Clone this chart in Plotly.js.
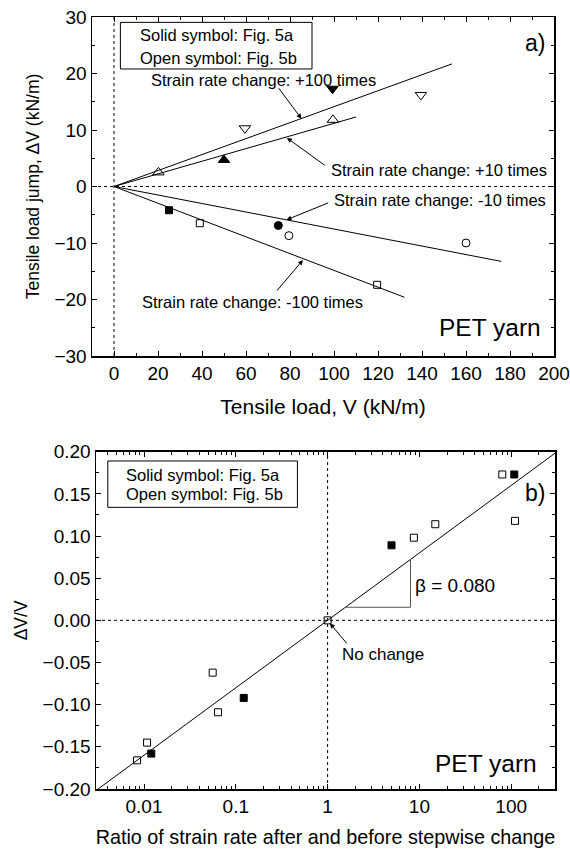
<!DOCTYPE html>
<html>
<head>
<meta charset="utf-8">
<script src="https://cdn.plot.ly/plotly-3.0.1.min.js"></script>
<style>html,body{margin:0;padding:0;background:#fff;}#chart{width:570px;height:851px;}</style>
</head>
<body>
<div id="chart"></div>
<script>
// ---------- Panel a) data: tensile load V (kN/m) vs load jump dV (kN/m) ----------
const aSolidUpX = [50];            // +10 times, Fig. 5a
const aSolidUpY = [4.7];
const aOpenUpX = [20.2, 99.5];     // +10 times, Fig. 5b
const aOpenUpY = [2.5, 11.8];
const aSolidDownX = [99.3];        // +100 times, Fig. 5a
const aSolidDownY = [17.3];
const aOpenDownX = [59.5, 139.5];  // +100 times, Fig. 5b
const aOpenDownY = [10.3, 16.2];
const aSolidSqX = [25];            // -100 times, Fig. 5a
const aSolidSqY = [-4.2];
const aOpenSqX = [39, 119.6];      // -100 times, Fig. 5b
const aOpenSqY = [-6.5, -17.4];
const aSolidCircX = [74.7];        // -10 times, Fig. 5a
const aSolidCircY = [-6.9];
const aOpenCircX = [79.5, 160];    // -10 times, Fig. 5b
const aOpenCircY = [-8.7, -10.0];
// fitted lines through origin: end points
const aFitNames = ['+100 times', '+10 times', '-10 times', '-100 times'];
const aFitEndX = [153.6, 110, 176, 132];
const aFitEndY = [21.7, 12.3, -13.25, -19.6];

// ---------- Panel b) data: strain-rate ratio vs dV/V ----------
const bSolidX = [0.012, 0.122, 4.97, 108];
const bSolidY = [-0.158, -0.092, 0.089, 0.173];
const bOpenX = [0.0084, 0.0108, 0.056, 0.064, 1, 8.7, 14.9, 80, 110];
const bOpenY = [-0.166, -0.145, -0.062, -0.109, 0, 0.098, 0.114, 0.173, 0.118];
const beta = 0.080;
const bFitX = [0.003, 300];
const bTriX = [1.5625, 8, 8];
const bTickVals = [0.01, 0.1, 1, 10, 100];
const bTickText = ['0.01', '0.1', '1', '10', '100'];

const FONT = 'Arial, "Liberation Sans", Helvetica, sans-serif';
const traces = [];
function pts(x, y, sym, size, xa, ya, name) {
  traces.push({x: x, y: y, mode: 'markers', type: 'scatter', name: name, xaxis: xa, yaxis: ya,
    marker: {symbol: sym, size: size, color: '#000', line: {color: '#000', width: 1}}});
}
// fitted lines panel a
for (let i = 0; i < aFitEndX.length; i++) {
  traces.push({x: [0, aFitEndX[i]], y: [0, aFitEndY[i]], mode: 'lines', type: 'scatter', name: aFitNames[i],
    xaxis: 'x', yaxis: 'y', line: {color: '#000', width: 1}});
}
pts(aSolidUpX, aSolidUpY, 'triangle-up', 10, 'x', 'y', '+10, 5a');
pts(aOpenUpX, aOpenUpY, 'triangle-up-open', 10, 'x', 'y', '+10, 5b');
pts(aSolidDownX, aSolidDownY, 'triangle-down', 10, 'x', 'y', '+100, 5a');
pts(aOpenDownX, aOpenDownY, 'triangle-down-open', 10, 'x', 'y', '+100, 5b');
pts(aSolidSqX, aSolidSqY, 'square', 7, 'x', 'y', '-100, 5a');
pts(aOpenSqX, aOpenSqY, 'square-open', 7, 'x', 'y', '-100, 5b');
pts(aSolidCircX, aSolidCircY, 'circle', 8, 'x', 'y', '-10, 5a');
pts(aOpenCircX, aOpenCircY, 'circle-open', 8, 'x', 'y', '-10, 5b');

// panel b
traces.push({x: bFitX, y: bFitX.map(v => beta * Math.log10(v)), mode: 'lines', type: 'scatter', name: 'fit',
  xaxis: 'x2', yaxis: 'y2', line: {color: '#000', width: 1}});
traces.push({x: bTriX, y: [beta * Math.log10(bTriX[0]), beta * Math.log10(bTriX[0]), beta * Math.log10(bTriX[2])],
  mode: 'lines', type: 'scatter', name: 'slope', xaxis: 'x2', yaxis: 'y2', line: {color: '#555', width: 1}});
pts(bSolidX, bSolidY, 'square', 7, 'x2', 'y2', 'Fig. 5a');
pts(bOpenX, bOpenY, 'square-open', 7, 'x2', 'y2', 'Fig. 5b');

const axBase = {
  showline: true, linecolor: '#000', linewidth: 1.5, mirror: 'ticks', ticks: 'inside', ticklen: 5,
  tickwidth: 1, tickcolor: '#000', showgrid: false, zeroline: false, ticklabeloverflow: 'allow',
  tickfont: {family: FONT, size: 19, color: '#000'},
};
function ax(extra) { return Object.assign({}, axBase, extra); }

const annFont = {family: FONT, size: 16.5, color: '#000'};
function txt(x, y, text, xref, yref, xanchor, size) {
  return {x: x, y: y, xref: xref, yref: yref, text: text, showarrow: false, xanchor: xanchor || 'left',
    yanchor: 'middle', font: Object.assign({}, annFont, size ? {size: size} : {})};
}
function arrow(x, y, axv, ayv, xref, yref) {
  return {x: x, y: y, ax: axv, ay: ayv, xref: xref, yref: yref, axref: xref, ayref: yref, text: '',
    showarrow: true, arrowhead: 2, arrowsize: 1, arrowwidth: 1, arrowcolor: '#000', standoff: 0};
}
const L = Math.log10;
const annotations = [
  txt(10.8, 26.9, 'Solid symbol: Fig. 5a', 'x', 'y'),
  txt(10.8, 22.8, 'Open symbol: Fig. 5b', 'x', 'y'),
  txt(15.8, 18.9, 'Strain rate change: +100 times', 'x', 'y'),
  txt(97.7, 3.0, 'Strain rate change: +10 times', 'x', 'y'),
  txt(99.3, -2.3, 'Strain rate change: -10 times', 'x', 'y'),
  txt(11.7, -20.5, 'Strain rate change: -100 times', 'x', 'y'),
  txt(196.7, 25.4, 'a)', 'x', 'y', 'right', 23),
  txt(195, -25, 'PET yarn', 'x', 'y', 'right', 24.5),
  arrow(85.2, 12.0, 74.4, 17.65, 'x', 'y'),
  arrow(78.6, 8.6, 96.5, 3.56, 'x', 'y'),
  arrow(78.4, -5.9, 98, -2.8, 'x', 'y'),
  arrow(85.9, -13.0, 73.5, -18.7, 'x', 'y'),
  txt(-2.214, 0.1724, 'Solid symbol: Fig. 5a', 'x2', 'y2'),
  txt(-2.214, 0.1495, 'Open symbol: Fig. 5b', 'x2', 'y2'),
  txt(2.39, 0.1507, 'b)', 'x2', 'y2', 'right', 23),
  txt(0.927, 0.041, 'β = 0.080', 'x2', 'y2', 'left', 19),
  txt(0.133, -0.041, 'No change', 'x2', 'y2', 'left', 17),
  txt(2.3, -0.1695, 'PET yarn', 'x2', 'y2', 'right', 24.5),
  arrow(0.025, -0.0034, 0.223, -0.0292, 'x2', 'y2'),
];

const shapes = [
  {type: 'line', xref: 'x', yref: 'y', x0: 0, x1: 0, y0: -30, y1: 30, line: {color: '#000', width: 1, dash: 'dot'}, layer: 'below'},
  {type: 'line', xref: 'x', yref: 'y', x0: -10, x1: 200, y0: 0, y1: 0, line: {color: '#000', width: 1, dash: 'dot'}, layer: 'below'},
  {type: 'rect', xref: 'x', yref: 'y', x0: 2.9, x1: 90, y0: 20.8, y1: 29.05, line: {color: '#000', width: 1}},
  {type: 'line', xref: 'x2', yref: 'y2', x0: 1, x1: 1, y0: -0.2, y1: 0.2, line: {color: '#000', width: 1, dash: 'dot'}, layer: 'below'},
  {type: 'line', xref: 'x2', yref: 'y2', x0: 0.003, x1: 300, y0: 0, y1: 0, line: {color: '#000', width: 1, dash: 'dot'}, layer: 'below'},
  {type: 'rect', xref: 'x2', yref: 'y2', x0: 0.00403, x1: 0.469, y0: 0.134, y1: 0.189, line: {color: '#000', width: 1}},
];

const layout = {
  width: 570, height: 851, showlegend: false,
  margin: {l: 0, r: 0, t: 0, b: 0},
  paper_bgcolor: '#fff', plot_bgcolor: '#fff',
  font: {family: FONT, color: '#000'},
  xaxis: ax({domain: [92 / 570, 554 / 570], anchor: 'y', range: [-10, 200], tick0: 0, dtick: 20,
    minor: {ticks: 'inside', ticklen: 3, dtick: 10, tickcolor: '#000'},
    title: {text: 'Tensile load, V (kN/m)', font: {family: FONT, size: 21, color: '#000'}, standoff: 16}}),
  yaxis: ax({domain: [1 - 356 / 851, 1 - 17 / 851], anchor: 'x', range: [-30, 30], dtick: 10,
    minor: {ticks: 'inside', ticklen: 3, dtick: 5, tickcolor: '#000'},
    title: {text: 'Tensile load jump, ΔV (kN/m)', font: {family: FONT, size: 17.5, color: '#000'}, standoff: 10}}),
  xaxis2: ax({domain: [96 / 570, 555 / 570], anchor: 'y2', type: 'log', range: [L(0.003), L(300)],
    tickvals: bTickVals, ticktext: bTickText,
    minor: {ticks: 'inside', ticklen: 3, dtick: 'D1', tickcolor: '#000'},
    title: {text: 'Ratio of strain rate after and before stepwise change', font: {family: FONT, size: 19.8, color: '#000'}, standoff: 14}}),
  yaxis2: ax({domain: [1 - 789 / 851, 1 - 451.7 / 851], anchor: 'x2', range: [-0.2, 0.2], dtick: 0.05, tickformat: '.2f',
    minor: {ticks: 'inside', ticklen: 3, dtick: 0.025, tickcolor: '#000'},
    title: {text: 'ΔV/V', font: {family: FONT, size: 17.5, color: '#000'}, standoff: 10}}),
  annotations: annotations,
  shapes: shapes,
};

Plotly.newPlot('chart', traces, layout, {staticPlot: true, displayModeBar: false});
</script>
</body>
</html>
